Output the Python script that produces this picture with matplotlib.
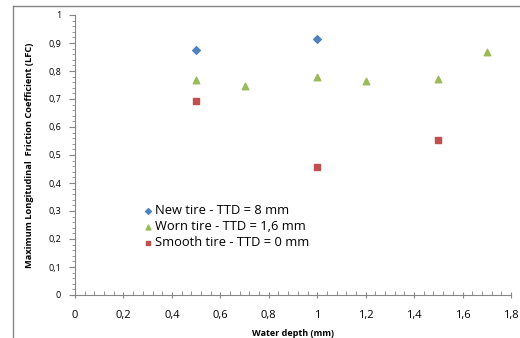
import numpy as np
import matplotlib.pyplot as plt
from matplotlib.ticker import MultipleLocator, FuncFormatter
from matplotlib.lines import Line2D

plt.rcParams['font.family'] = ['Open Sans', 'DejaVu Sans']

# Datos
x_new = [0.5, 1.0]
y_new = [0.876, 0.915]
x_worn = [0.5, 0.7, 1.0, 1.2, 1.5, 1.7]
y_worn = [0.768, 0.746, 0.779, 0.765, 0.770, 0.868]
x_smooth = [0.5, 1.0, 1.5]
y_smooth = [0.693, 0.456, 0.552]

labels = ['New tire - TTD = 8 mm', 'Worn tire - TTD = 1,6 mm', 'Smooth tire - TTD = 0 mm']

fig = plt.figure(figsize=(5.2, 3.38), dpi=100)
ax = fig.add_axes([75 / 520, 43 / 338, 436 / 520, 280 / 338])

ax.scatter(x_new, y_new, marker='D', s=15, color='#4F81BD', label=labels[0], zorder=3)
ax.scatter(x_worn, y_worn, marker='^', s=22, color='#9BBB59', label=labels[1], zorder=3)
ax.scatter(x_smooth, y_smooth, marker='s', s=17, color='#C0504D', label=labels[2], zorder=3)

ax.set_xlim(0, 1.8)
ax.set_ylim(0, 1)
ax.xaxis.set_major_locator(MultipleLocator(0.2))
ax.xaxis.set_minor_locator(MultipleLocator(0.04))
ax.yaxis.set_major_locator(MultipleLocator(0.1))
ax.yaxis.set_minor_locator(MultipleLocator(0.02))

def coma(v, pos):
    s = f'{v:.1f}'.rstrip('0').rstrip('.')
    return s.replace('.', ',')

ax.xaxis.set_major_formatter(FuncFormatter(coma))
ax.yaxis.set_major_formatter(FuncFormatter(coma))

for s in ['top', 'right']:
    ax.spines[s].set_visible(False)
for s in ['left', 'bottom']:
    ax.spines[s].set_color('#868686')
    ax.spines[s].set_linewidth(0.8)

ax.tick_params(axis='x', which='major', direction='inout', length=5, color='#868686', labelsize=8, pad=8)
ax.tick_params(axis='x', which='minor', direction='in', length=3, color='#868686')
ax.tick_params(axis='y', which='major', direction='out', length=4, color='#868686', labelsize=6.5, pad=6)
ax.tick_params(axis='y', which='minor', direction='out', length=2, color='#868686')

ax.set_xlabel('Water depth (mm)', fontsize=6.5, fontweight='bold', labelpad=6)
ax.set_ylabel('Maximum Longitudinal  Friction Coefficient (LFC)', fontsize=6.7, fontweight='bold', labelpad=10)

ax.legend(loc='lower left', bbox_to_anchor=(0.125, 0.123), frameon=False, fontsize=9.3,
          handletextpad=0.1, labelspacing=0.22, handlelength=1.0, markerscale=0.75)

# Borde del area del grafico
fig.add_artist(Line2D([13 / 520, 13 / 520], [0, 1 - 6 / 338], color='#868686', lw=1))
fig.add_artist(Line2D([13 / 520, 1], [1 - 6 / 338, 1 - 6 / 338], color='#868686', lw=1))

fig.savefig('out.png', dpi=100)
